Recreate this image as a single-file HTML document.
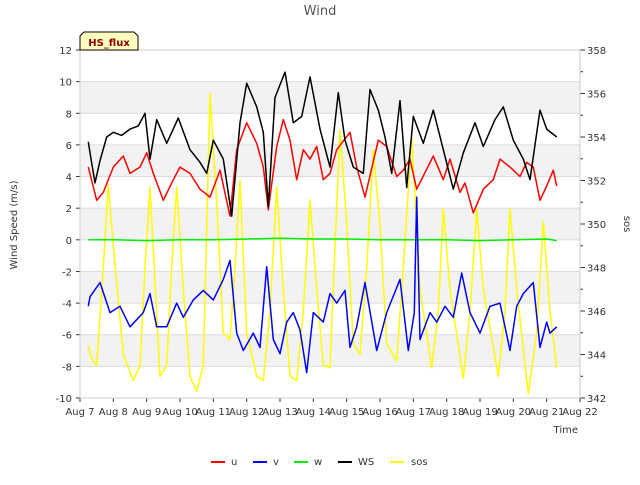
<!DOCTYPE html>
<html><head><meta charset="utf-8"><style>
body{margin:0;background:#fff;font-family:"Liberation Sans","DejaVu Sans",sans-serif;}
svg text{font-family:"DejaVu Sans","Liberation Sans",sans-serif;}
</style></head><body>
<svg id="c" width="640" height="480" xmlns="http://www.w3.org/2000/svg"></svg>
<script>
// ---- data ----
const xTickLabels=["Aug 7","Aug 8","Aug 9","Aug 10","Aug 11","Aug 12","Aug 13","Aug 14","Aug 15","Aug 16","Aug 17","Aug 18","Aug 19","Aug 20","Aug 21","Aug 22"];
const yTicks=[-10,-8,-6,-4,-2,0,2,4,6,8,10,12];
const y2Ticks=[342,344,346,348,350,352,354,356,358];
const wsDays=[7.25,7.3,7.45,7.6,7.8,8.0,8.25,8.5,8.75,8.95,9.1,9.3,9.6,9.95,10.3,10.6,10.8,11.0,11.3,11.55,11.8,12.0,12.3,12.5,12.65,12.85,13.15,13.4,13.65,13.9,14.2,14.5,14.75,14.95,15.2,15.5,15.7,15.95,16.15,16.35,16.6,16.8,17.0,17.3,17.6,17.9,18.2,18.5,18.85,19.1,19.45,19.7,20.0,20.3,20.5,20.8,21.0,21.3];
const wsVals=[6.2,5.5,3.6,5.0,6.5,6.8,6.6,7.0,7.2,8.0,5.1,7.6,6.1,7.7,5.7,4.9,4.2,6.3,5.1,1.5,7.4,9.9,8.4,6.8,2.1,9.0,10.6,7.4,7.8,10.3,7.0,4.6,9.3,6.3,4.6,4.2,9.5,8.2,6.5,4.2,8.8,3.3,7.8,6.1,8.2,5.7,3.2,5.5,7.4,5.9,7.6,8.4,6.3,5.1,3.8,8.2,7.0,6.5];
const uDays=[7.25,7.5,7.7,8.0,8.3,8.5,8.8,9.0,9.2,9.5,9.8,10.0,10.3,10.6,10.9,11.2,11.5,11.7,12.0,12.3,12.5,12.65,12.9,13.1,13.3,13.5,13.7,13.9,14.1,14.3,14.5,14.7,15.1,15.3,15.55,15.95,16.2,16.5,16.7,16.9,17.1,17.6,17.9,18.1,18.4,18.55,18.8,19.1,19.4,19.6,19.9,20.2,20.4,20.6,20.8,21.0,21.2,21.3];
const uVals=[4.6,2.5,3.0,4.6,5.3,4.2,4.6,5.5,4.2,2.5,3.8,4.6,4.2,3.2,2.7,4.4,1.5,5.7,7.4,6.1,4.6,1.9,5.9,7.6,6.3,3.8,5.7,5.1,5.9,3.8,4.2,5.7,6.8,4.6,2.7,6.3,5.9,4.0,4.4,5.1,3.2,5.3,3.8,5.1,3.0,3.6,1.7,3.2,3.8,5.1,4.6,4.0,4.9,4.6,2.5,3.4,4.4,3.4];
const vDays=[7.25,7.3,7.6,7.9,8.2,8.5,8.9,9.1,9.3,9.6,9.9,10.1,10.4,10.7,11.0,11.3,11.5,11.7,11.9,12.2,12.4,12.6,12.8,13.0,13.2,13.4,13.6,13.8,14.0,14.3,14.5,14.7,14.95,15.1,15.3,15.55,15.9,16.2,16.6,16.85,17.03,17.1,17.2,17.5,17.7,17.95,18.2,18.45,18.7,19.0,19.3,19.6,19.9,20.1,20.3,20.6,20.8,21.0,21.1,21.3];
const vVals=[-4.2,-3.6,-2.7,-4.6,-4.2,-5.5,-4.6,-3.4,-5.5,-5.5,-4.0,-4.9,-3.8,-3.2,-3.8,-2.5,-1.3,-5.9,-7.0,-5.9,-6.8,-1.7,-6.3,-7.2,-5.2,-4.6,-5.7,-8.4,-4.6,-5.2,-3.4,-4.0,-3.2,-6.8,-5.5,-2.7,-7.0,-4.6,-2.5,-7.0,-4.6,2.7,-6.3,-4.6,-5.2,-4.2,-4.9,-2.1,-4.6,-5.9,-4.2,-4.0,-7.0,-4.2,-3.4,-2.7,-6.8,-5.2,-5.9,-5.5];
const wDays=[7.25,8.0,9.0,10.0,11.0,12.0,13.0,14.0,15.0,16.0,17.0,18.0,19.0,20.0,21.0,21.3];
const wVals=[0.0,0.0,-0.05,0.0,0.0,0.05,0.1,0.05,0.05,0.0,0.0,0.0,-0.05,0.0,0.05,-0.05];
const sosDays=[7.25,7.35,7.5,7.7,7.85,8.0,8.3,8.6,8.8,8.95,9.1,9.4,9.6,9.75,9.9,10.1,10.3,10.5,10.7,10.9,11.1,11.3,11.5,11.65,11.8,12.0,12.3,12.5,12.7,12.9,13.1,13.3,13.5,13.7,13.9,14.1,14.3,14.5,14.65,14.8,15.0,15.2,15.4,15.6,15.8,16.0,16.2,16.5,16.7,16.95,17.2,17.55,17.75,17.9,18.1,18.5,18.7,18.9,19.1,19.55,19.75,19.9,20.1,20.45,20.7,20.9,21.1,21.3];
const sosVals=[344.4,343.8,343.5,348,351.8,349,344,342.8,343.5,348,351.7,343,343.5,348,351.7,347,343,342.3,343.5,356,351,345,344.7,348,352,345,343,342.8,346,351.7,347,343,342.8,346,351.1,347,343.5,343.4,349,354.3,350,344.5,344,348,353.4,350,344.5,343.7,348,354,347,343.4,346,350.7,347,342.9,346,350.7,347,343,346,350.7,347,342.2,345,350.1,346,343.4];

// ---- axes ----
const X0=80,X1=580,Y0=50,Y1=398;
const xs=d=>X0+(d-7)*(X1-X0)/15;
const yL=v=>Y1-(v+10)*(Y1-Y0)/22;
const yR=v=>Y1-(v-342)*(Y1-Y0)/16;
const svg=document.getElementById('c');
const NS='http://www.w3.org/2000/svg';
function mk(tag,attrs,parent){const e=document.createElementNS(NS,tag);for(const k in attrs)e.setAttribute(k,attrs[k]);(parent||svg).appendChild(e);return e;}

[[8,10],[4,6],[0,2],[-4,-2],[-8,-6]].forEach(b=>{
 const r=mk('rect',{x:X0,y:yL(b[1]),width:X1-X0,height:yL(b[0])-yL(b[1]),fill:'#f2f2f2'});
 
 
});
yTicks.forEach(t=>{
 const l=mk('line',{x1:X0,x2:X1,y1:yL(t),y2:yL(t),stroke:'#dcdcdc','stroke-width':1});
 
 
 const tk=mk('line',{x1:X0-4,x2:X0,y1:yL(t),y2:yL(t),stroke:'#333'});
 
 
 const tx=mk('text',{x:X0-8,y:yL(t)+4,'text-anchor':'end','font-size':10,fill:'#333'});
 tx.textContent=t;
 
 
});
y2Ticks.forEach((t,i)=>{
 const tk=mk('line',{x1:X1,x2:X1+5,y1:yR(t),y2:yR(t),stroke:'#333'});
 
 
 if(i<y2Ticks.length-1){
  const mn=mk('line',{x1:X1,x2:X1+3,y1:yR(t+1),y2:yR(t+1),stroke:'#333'});
  
  
 }
 const tx=mk('text',{x:X1+7,y:yR(t)+4,'font-size':10,fill:'#333'});
 tx.textContent=t;
 
 
});
xTickLabels.forEach((s,i)=>{
 const tk=mk('line',{x1:xs(7+i),x2:xs(7+i),y1:Y1,y2:Y1+4,stroke:'#333'});
 
 
 const tx=mk('text',{x:xs(7+i),y:Y1+17,'text-anchor':'middle','font-size':10,fill:'#333'});
 tx.textContent=s;
 
 
});
const fr=mk('rect',{x:X0,y:Y0,width:X1-X0,height:Y1-Y0,fill:'none',stroke:'#ccc'});



function series(days,vals,yf,color,name){
 const p=mk('polyline',{points:days.map((d,i)=>xs(d).toFixed(1)+','+yf(vals[i]).toFixed(1)).join(' '),fill:'none',stroke:color,'stroke-width':1.5,'stroke-linejoin':'round'});
 
 
}
series(sosDays,sosVals,yR,'#ffff00','sos-line');
series(wDays,wVals,yL,'#00ee00','w-line');
series(vDays,vVals,yL,'#0000ff','v-line');
series(uDays,uVals,yL,'#ff0000','u-line');
series(wsDays,wsVals,yL,'#000000','ws-line');
</script>
<svg width="640" height="480" style="position:absolute;left:0;top:0" xmlns="http://www.w3.org/2000/svg">
<text x="320" y="15" text-anchor="middle" font-size="13" fill="#555">Wind</text>
<text transform="translate(17,225) rotate(-90)" text-anchor="middle" font-size="10" fill="#333">Wind Speed (m/s)</text>
<text transform="translate(624,224) rotate(90)" text-anchor="middle" font-size="10" fill="#333">sos</text>
<text x="578" y="433" text-anchor="end" font-size="10" fill="#333">Time</text>
<g>
<path d="M80,50 L80,36 L84,32 L134,32 L138,36 L138,50 Z" fill="#ffffc0" stroke="#000"/>
<text x="109" y="46" text-anchor="middle" font-size="10" font-weight="bold" fill="#8b0000">HS_flux</text>
</g>
<g font-size="10" fill="#333">
<g><line x1="211" x2="225" y1="462" y2="462" stroke="#ff0000" stroke-width="2"/><text x="231" y="465">u</text></g>
<g><line x1="253" x2="267" y1="462" y2="462" stroke="#0000ff" stroke-width="2"/><text x="273" y="465">v</text></g>
<g><line x1="294" x2="308" y1="462" y2="462" stroke="#00ee00" stroke-width="2"/><text x="314" y="465">w</text></g>
<g><line x1="338" x2="352" y1="462" y2="462" stroke="#000" stroke-width="2"/><text x="358" y="465">WS</text></g>
<g><line x1="390" x2="404" y1="462" y2="462" stroke="#ffff00" stroke-width="2"/><text x="411" y="465">sos</text></g>
</g>
</svg>
</body></html>
